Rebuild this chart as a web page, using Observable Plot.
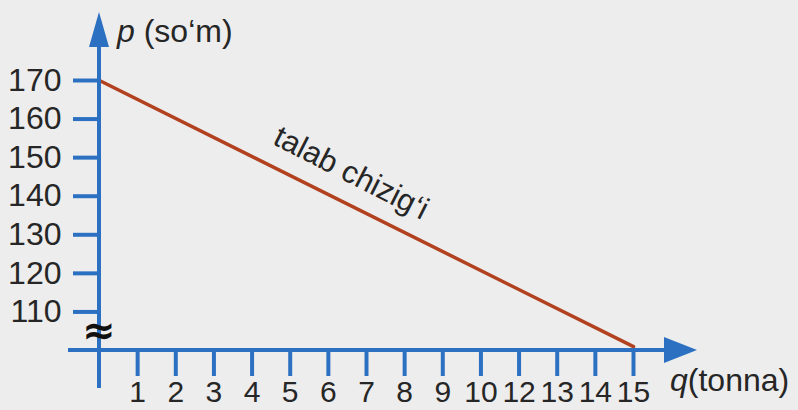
<!DOCTYPE html>
<html>
<head>
<meta charset="utf-8">
<script src="https://cdn.jsdelivr.net/npm/d3@7"></script>
<script src="https://cdn.jsdelivr.net/npm/@observablehq/plot@0.6"></script>
<style>
  html, body { margin: 0; padding: 0; background: #ededed; }
  #chart { width: 798px; height: 410px; }
</style>
</head>
<body>
<div id="chart"></div>
<script>
// ---- data ----
const xTickLabels = ["1","2","3","4","5","6","7","8","9","10","12","13","14","15"]; // as printed (11 missing)
const yTickValues = [110, 120, 130, 140, 150, 160, 170];
const demandQ = [0, 15];        // q (tonna)
const demandP = [170, 101];     // p (so‘m)
const lineLabel = "talab chizig‘i";
const yTitleVar = "p", yTitleUnit = " (so‘m)";
const xTitleVar = "q", xTitleUnit = "(tonna)";

const blue = "#2c70c2";
const lineColor = "#b2411f";
const ink = "#262626";
const font = "'Liberation Sans', Arial, sans-serif";

// position of a q value on the printed tick row
const pos = q => q === 0 ? 0 : xTickLabels.indexOf(String(q)) + 1;
const demand = demandQ.map((q, i) => ({pos: pos(q), p: demandP[i]}));
const labelPos = 6.6;
const labelP = demandP[0] + (demandP[1] - demandP[0]) * labelPos / pos(demandQ[1]);

const plot = Plot.plot({
  width: 798,
  height: 410,
  marginLeft: 99,
  marginRight: 165,
  marginTop: 80,
  marginBottom: 60,
  style: {background: "#ededed", fontFamily: font, color: ink, overflow: "visible"},
  x: {domain: [0, xTickLabels.length], axis: null},
  y: {domain: [100, 170], axis: null},
  marks: [
    Plot.axisX({
      ticks: d3.range(1, xTickLabels.length + 1),
      tickFormat: i => xTickLabels[i - 1],
      tickSize: 26, tickPadding: 4,
      stroke: blue, strokeWidth: 4, fill: ink,
      fontSize: 30, label: null
    }),
    Plot.axisY({
      ticks: yTickValues,
      tickSize: 26, tickPadding: 12,
      stroke: blue, strokeWidth: 4, fill: ink,
      fontSize: 32, label: null
    }),
    Plot.line(demand, {x: "pos", y: "p", stroke: lineColor, strokeWidth: 3.5}),
    Plot.text([lineLabel], {
      x: labelPos, y: labelP, text: d => d, rotate: 27, dy: -33,
      fontSize: 31, fill: ink, textAnchor: "middle"
    })
  ]
});

document.getElementById("chart").appendChild(plot);

// axis lines, arrowheads, break mark and axis titles placed with the plot's scales
const sx = plot.scale("x"), sy = plot.scale("y");
const x0 = sx.apply(0), y0 = sy.apply(100);
const yTop = sy.apply(170);
const xEnd = sx.apply(xTickLabels.length);
const svg = d3.select(plot);
const g = svg.append("g").attr("text-anchor", "start");

// y axis line (extends below the x axis) and arrow
g.append("line").attr("x1", x0).attr("x2", x0).attr("y1", y0 + 38).attr("y2", yTop - 36)
  .attr("stroke", blue).attr("stroke-width", 4);
g.append("path").attr("d", `M${x0},${yTop - 68}L${x0 - 10},${yTop - 33}L${x0 + 10},${yTop - 33}Z`).attr("fill", blue);

// x axis line and arrow
g.append("line").attr("x1", x0 - 31).attr("x2", xEnd + 34).attr("y1", y0).attr("y2", y0)
  .attr("stroke", blue).attr("stroke-width", 4);
g.append("path").attr("d", `M${xEnd + 64},${y0}L${xEnd + 31},${y0 - 13}L${xEnd + 31},${y0 + 13}Z`).attr("fill", blue);

// break mark
g.append("text").attr("x", x0).attr("y", y0 - 6).attr("text-anchor", "middle")
  .attr("font-size", 40).attr("font-weight", "bold").attr("fill", "#111")
  .attr("font-family", "'DejaVu Sans', sans-serif").text("≈");

// axis titles
const yt = g.append("text").attr("x", x0 + 18).attr("y", yTop - 38).attr("font-size", 32).attr("fill", ink);
yt.append("tspan").attr("font-style", "italic").text(yTitleVar);
yt.append("tspan").text(yTitleUnit);
const xt = g.append("text").attr("x", xEnd + 37).attr("y", y0 + 41).attr("font-size", 32).attr("fill", ink);
xt.append("tspan").attr("font-style", "italic").text(xTitleVar);
xt.append("tspan").text(xTitleUnit);
</script>
</body>
</html>
